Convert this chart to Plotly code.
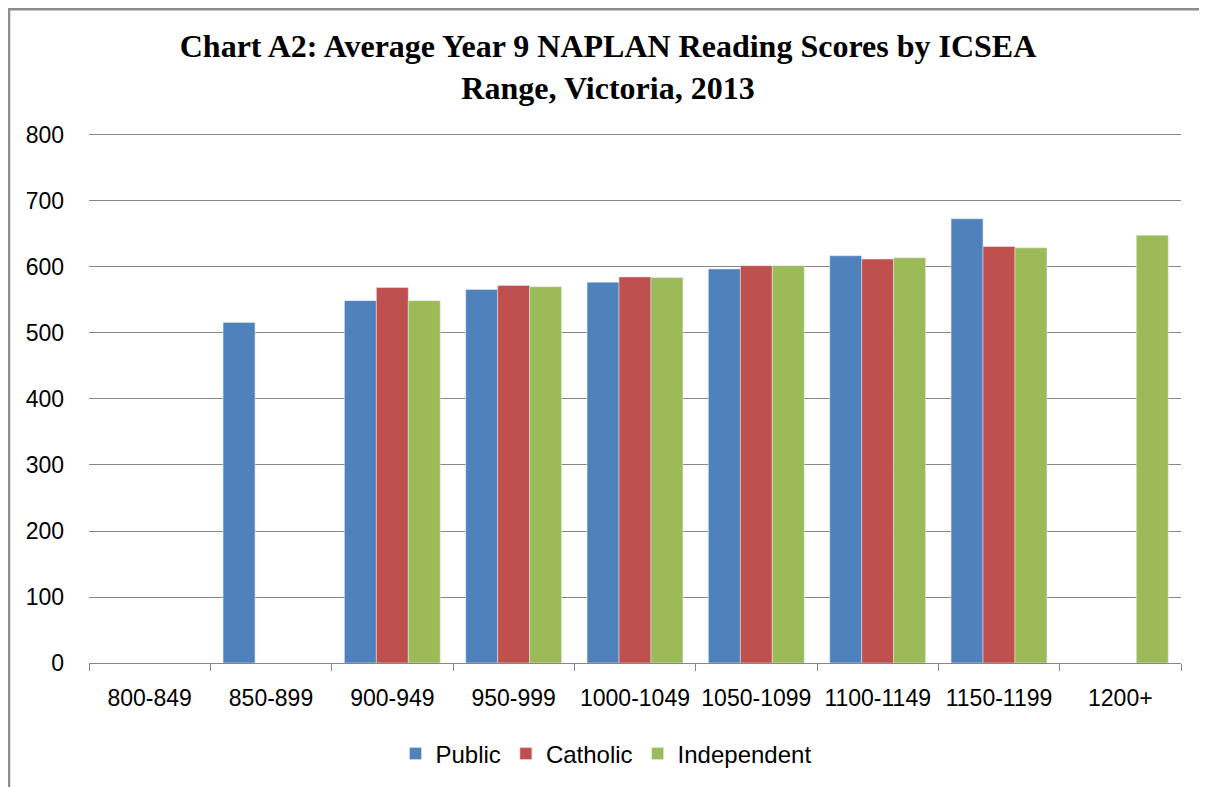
import plotly.graph_objects as go

categories = ["800-849", "850-899", "900-949", "950-999", "1000-1049",
              "1050-1099", "1100-1149", "1150-1199", "1200+"]
public = [None, 516, 549, 566, 577, 597, 617, 673, None]
catholic = [None, None, 569, 572, 585, 602, 612, 631, None]
independent = [None, None, 549, 570, 584, 602, 614, 629, 648]
y_ticks = [0, 100, 200, 300, 400, 500, 600, 700, 800]

# page has an 8px body margin; figure is placed at (8, 8)
OFF = 8
W, H = 1207 - OFF, 787 - OFF
L, R, T, B = 89 - OFF, 26, 133 - OFF, 123
pw, ph = W - L - R, H - T - B

fig = go.Figure()
fig.add_trace(go.Bar(name="Public", x=categories, y=public, marker_color="#4F81BD"))
fig.add_trace(go.Bar(name="Catholic", x=categories, y=catholic, marker_color="#C0504D"))
fig.add_trace(go.Bar(name="Independent", x=categories, y=independent, marker_color="#9BBB59"))

tick_font = dict(family="Liberation Sans, Arial, sans-serif", size=23, color="#000000")
legend_font = dict(family="Liberation Sans, Arial, sans-serif", size=24, color="#000000")

fig.update_layout(
    width=W, height=H,
    margin=dict(l=L, r=R, t=T, b=B),
    paper_bgcolor="white", plot_bgcolor="white",
    barmode="group", bargap=0.21, bargroupgap=0,
    title=dict(
        text="Chart A2: Average Year 9 NAPLAN Reading Scores by ICSEA<br>Range, Victoria, 2013",
        font=dict(family="Liberation Serif, Times New Roman, serif", size=32, color="#000000",
                  weight="bold"),
        x=(608 - OFF) / W, xanchor="center", xref="container",
        y=1 - (57 - OFF) / H, yanchor="middle", yref="container",
    ),
    legend=dict(orientation="h", x=(606 - 89) / pw, xanchor="center", xref="paper",
                y=(664 - 754) / ph, yanchor="middle",
                font=legend_font, itemwidth=30, traceorder="normal"),
    xaxis=dict(showline=True, linecolor="#868686", linewidth=1.3,
               ticks="outside", tickson="boundaries", ticklen=7, tickcolor="#868686",
               tickfont=tick_font, showgrid=False, ticklabelstandoff=14),
    yaxis=dict(range=[0, 803], tickvals=y_ticks, showgrid=True, gridcolor="#868686",
               gridwidth=1.3, zeroline=False, showline=False, tickfont=tick_font,
               ticks="", ticklabelstandoff=24),
    shapes=[
        dict(type="line", xref="paper", yref="paper",
             x0=(9 - 89) / pw, x1=(9 - 89) / pw, y0=(664 - 800) / ph, y1=(664 - 8) / ph,
             line=dict(color="#8c8c8c", width=2.5)),
        dict(type="line", xref="paper", yref="paper",
             x0=(8 - 89) / pw, x1=(1215 - 89) / pw, y0=(664 - 9) / ph, y1=(664 - 9) / ph,
             line=dict(color="#8c8c8c", width=2.5)),
    ],
)

fig.write_html("out.html")
